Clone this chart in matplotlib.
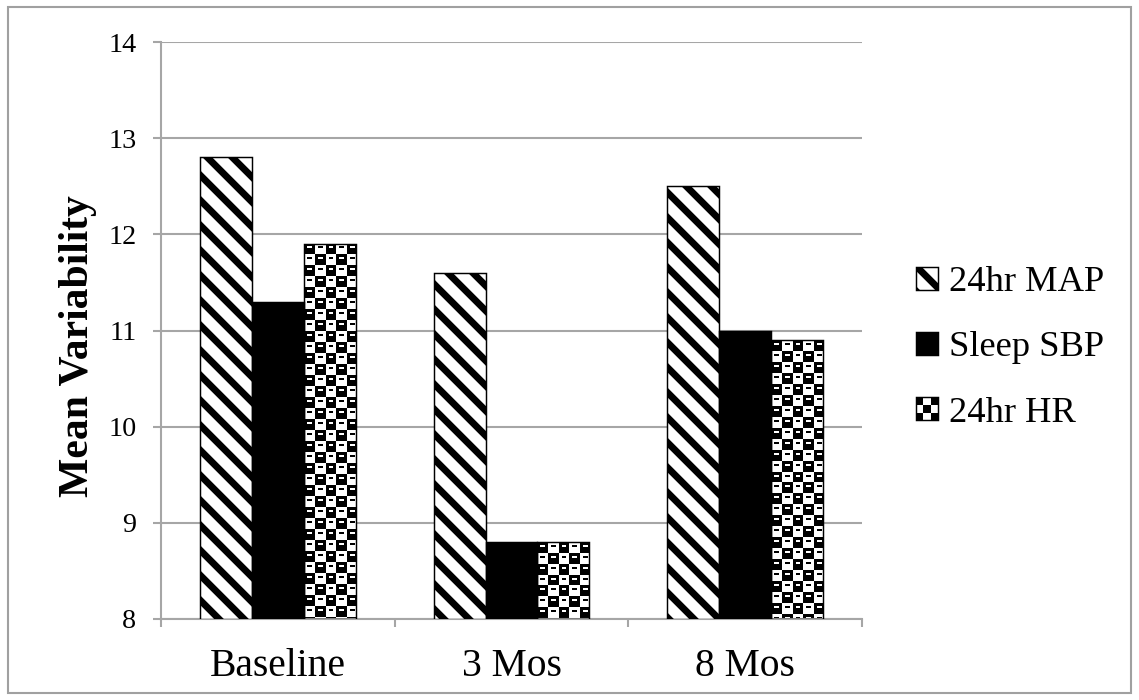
import numpy as np
import matplotlib
matplotlib.use("Agg")
import matplotlib.pyplot as plt
from matplotlib.patches import Rectangle, Patch
from matplotlib.legend_handler import HandlerBase

# Donnees
categories = ["Baseline", "3 Mos", "8 Mos"]
series = ["24hr MAP", "Sleep SBP", "24hr HR"]
map_24hr = [12.8, 11.6, 12.5]
sbp_sleep = [11.3, 8.8, 11.0]
hr_24hr = [11.9, 8.8, 10.9]
y_ticks = [8, 9, 10, 11, 12, 13, 14]

DPI = 150
plt.rcParams['font.family'] = ['Liberation Serif', 'DejaVu Serif']
plt.rcParams['hatch.linewidth'] = 3.3

fig = plt.figure(figsize=(1139 / DPI, 700 / DPI), dpi=DPI)
ax = fig.add_axes([161 / 1139, 81 / 700, 701 / 1139, 577 / 700])

# cadre gris exterieur
fig.patches.append(Rectangle((8 / 1139, 7 / 700), 1123 / 1139, 686 / 700,
                             transform=fig.transFigure, fill=False,
                             edgecolor='#a0a0a0', linewidth=1.0))

x = np.arange(len(categories))
w = 0.222

ax.set_xlim(-0.5, 2.5)
ax.set_ylim(8, 14)

b1 = ax.bar(x - w, np.array(map_24hr) - 8, w, bottom=8, color='white',
            edgecolor='black', hatch='\\\\', linewidth=0.7, zorder=3)
b2 = ax.bar(x, np.array(sbp_sleep) - 8, w, bottom=8, color='black',
            edgecolor='black', linewidth=0.7, zorder=3)
b3 = ax.bar(x + w, np.array(hr_24hr) - 8, w, bottom=8, color='none',
            edgecolor='black', linewidth=0.7, zorder=3)


def checker_tile(s=11):
    t = np.ones((2 * s, 2 * s))
    t[:s, :s] = 0
    t[s:, s:] = 0
    # petits tirets blancs dans les cases noires
    t[3:5, 3:8] = 1
    t[s + 3:s + 5, s + 3:s + 8] = 1
    # petits tirets noirs dans les cases blanches
    t[3:5, s + 3:s + 8] = 0
    t[s + 3:s + 5, 3:8] = 0
    return t


tile = checker_tile()
for bar in b3:
    x0, y0 = bar.get_x(), bar.get_y()
    x1, y1 = x0 + bar.get_width(), y0 + bar.get_height()
    (px0, py0), (px1, py1) = ax.transData.transform([(x0, y0), (x1, y1)])
    nw, nh = int(round(px1 - px0)) + 1, int(round(py1 - py0)) + 1
    img = np.tile(tile, (nh // tile.shape[0] + 1, nw // tile.shape[1] + 1))[:nh, :nw]
    im = ax.imshow(img, cmap='gray', vmin=0, vmax=1, extent=(x0, x1, y0, y1),
                   interpolation='nearest', aspect='auto', zorder=2.5)
    im.set_clip_path(bar)

ax.set_xlim(-0.5, 2.5)
ax.set_ylim(8, 14)

# axes style
ax.set_yticks(y_ticks)
ax.yaxis.grid(True, color='#a6a6a6', linewidth=1.0, zorder=0)
ax.set_axisbelow(True)
for s in ['top', 'right']:
    ax.spines[s].set_visible(False)
for s in ['left', 'bottom']:
    ax.spines[s].set_color('#a6a6a6')
    ax.spines[s].set_linewidth(1.0)
ax.tick_params(axis='y', length=3.8, width=1.0, color='#a6a6a6', pad=8, labelsize=13.5)
ax.set_xticks(x)
ax.set_xticklabels(categories)
ax.set_xticks([-0.5, 0.5, 1.5, 2.5], minor=True)
ax.tick_params(axis='x', which='major', length=0, pad=14, labelsize=19)
ax.tick_params(axis='x', which='minor', length=3.8, width=1.0, color='#a6a6a6')

fig.text(78 / 1139, 1 - 346 / 700, "Mean Variability", rotation=90,
         ha='center', va='center', fontsize=20, fontweight='bold')


class CheckerHandler(HandlerBase):
    def create_artists(self, legend, orig_handle, xdescent, ydescent,
                       width, height, fontsize, trans):
        arts = [Rectangle((-xdescent, -ydescent), width, height,
                          facecolor='white', edgecolor='black', lw=0.7, transform=trans)]
        n = 3
        for i in range(n):
            for j in range(n):
                if (i + j) % 2 == 0:
                    arts.append(Rectangle((-xdescent + i * width / n, -ydescent + j * height / n),
                                          width / n, height / n, facecolor='black',
                                          edgecolor='none', transform=trans))
        return arts


h1 = Patch(facecolor='white', edgecolor='black', hatch='\\\\', linewidth=0.7)
h2 = Patch(facecolor='black', edgecolor='black', linewidth=0.7)
h3 = Patch(facecolor='white', edgecolor='black')
fig.legend([h1, h2, h3], series, loc='center left',
           bbox_to_anchor=(916 / 1139, 1 - 348 / 700), frameon=False,
           fontsize=17.5, handlelength=0.6, handleheight=0.6, handletextpad=0.3,
           labelspacing=0.88, borderpad=0, borderaxespad=0,
           handler_map={h3: CheckerHandler()})

fig.savefig("out.png", dpi=DPI)
